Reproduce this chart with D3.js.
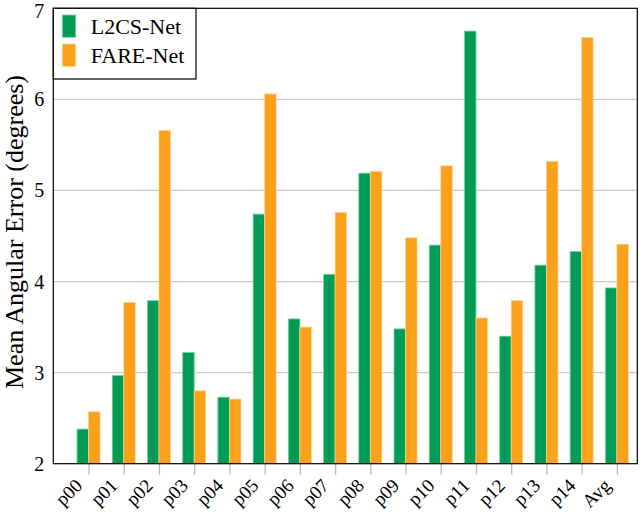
<!DOCTYPE html>
<html>
<head>
<meta charset="utf-8">
<script src="https://cdn.jsdelivr.net/npm/d3@7"></script>
<style>
  html, body { margin: 0; padding: 0; background: #fff; }
  svg { display: block; }
  text { font-family: "Liberation Serif", "DejaVu Serif", serif; fill: #000; }
</style>
</head>
<body>
<svg id="chart" width="640" height="513"></svg>
<script>
const categories = ["p00","p01","p02","p03","p04","p05","p06","p07","p08","p09","p10","p11","p12","p13","p14","Avg"];
const l2csNet = [2.38, 2.97, 3.79, 3.22, 2.73, 4.74, 3.59, 4.08, 5.19, 3.48, 4.40, 6.75, 3.40, 4.18, 4.33, 3.93];
const fareNet = [2.57, 3.77, 5.66, 2.80, 2.71, 6.06, 3.50, 4.76, 5.21, 4.48, 5.27, 3.60, 3.79, 5.32, 6.68, 4.41];
const seriesNames = ["L2CS-Net", "FARE-Net"];
const yTicks = [2, 3, 4, 5, 6, 7];
const yTitle = "Mean Angular Error (degrees)";

const colors = ["#009b55", "#f9a11b"];
const strokes = ["#7fd0a6", "#fdd28d"];

const svg = d3.select("#chart");
const L = 53.3, R = 637.3, T = 8.3, B = 463.7;

const x = d3.scaleLinear().domain([-1, 15.58]).range([L, R]);
const y = d3.scaleLinear().domain([2, 7]).range([B, T]);
const bw = 0.327;

// gridlines
svg.append("g").selectAll("line").data(yTicks.filter(v => v > 2 && v < 7)).join("line")
  .attr("x1", L).attr("x2", R)
  .attr("y1", d => y(d)).attr("y2", d => y(d))
  .attr("stroke", "#cccccc").attr("stroke-width", 1.3);

// bars
const series = [l2csNet, fareNet];
series.forEach((vals, s) => {
  svg.append("g").selectAll("rect").data(vals).join("rect")
    .attr("x", (d, i) => x(i + (s === 0 ? -bw : 0)))
    .attr("width", (d, i) => x(i + bw) - x(i))
    .attr("y", d => y(d))
    .attr("height", d => y(2) - y(d))
    .attr("fill", colors[s])
    .attr("stroke", strokes[s])
    .attr("stroke-width", 0.8);
});

// x ticks (gray marks below)
const xAxis = d3.axisBottom(x)
  .tickValues(d3.range(categories.length))
  .tickSize(11)
  .tickFormat("");
const gx = svg.append("g").attr("transform", `translate(0,${B})`).call(xAxis);
gx.select(".domain").remove();
gx.selectAll(".tick line").attr("stroke", "#bbbbbb").attr("stroke-width", 1.3);

// x labels rotated
svg.append("g").selectAll("text").data(categories).join("text")
  .attr("transform", (d, i) => `translate(${x(i) - 5},${B + 23}) rotate(-45)`)
  .attr("text-anchor", "end")
  .attr("font-size", 19)
  .text(d => d);

// y labels
svg.append("g").selectAll("text").data(yTicks).join("text")
  .attr("x", L - 9)
  .attr("y", d => Math.max(y(d), 11))
  .attr("text-anchor", "end")
  .attr("dy", "0.35em")
  .attr("font-size", 20)
  .text(d => d);

// frame
svg.append("rect")
  .attr("x", L).attr("y", T).attr("width", R - L).attr("height", B - T)
  .attr("fill", "none").attr("stroke", "#000").attr("stroke-width", 1.2);

// y title
svg.append("text")
  .attr("transform", `translate(23,232) rotate(-90)`)
  .attr("text-anchor", "middle")
  .attr("font-size", 26)
  .text(yTitle);

// legend
const lg = svg.append("g");
lg.append("rect").attr("x", L).attr("y", T).attr("width", 142.7).attr("height", 70.7)
  .attr("fill", "#fff").attr("stroke", "#000").attr("stroke-width", 1.2);
seriesNames.forEach((name, s) => {
  lg.append("rect").attr("x", 62.3).attr("y", 15 + s * 29).attr("width", 13.4).attr("height", 22.3)
    .attr("fill", colors[s]).attr("stroke", strokes[s]).attr("stroke-width", 0.8);
  lg.append("text").attr("x", 90.7).attr("y", 34.3 + s * 29).attr("font-size", 22).text(name);
});
</script>
</body>
</html>
